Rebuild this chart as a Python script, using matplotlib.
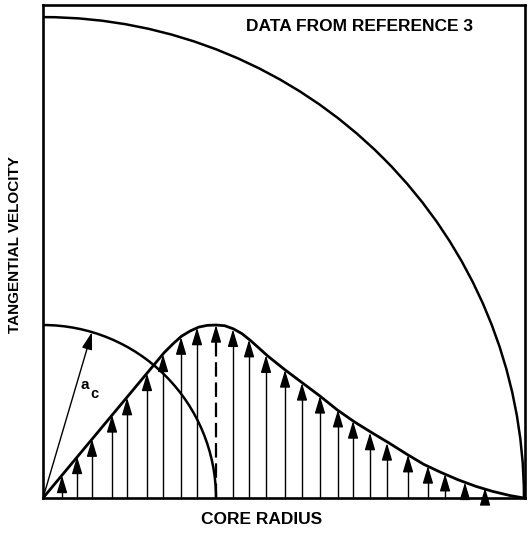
import matplotlib
matplotlib.use("Agg")
import matplotlib.pyplot as plt
from matplotlib.patches import Arc

plt.rcParams['font.family'] = ['Liberation Sans', 'DejaVu Sans']

# velocity profile, radius and velocity in units of the core radius
profile_r = [0.0, 0.30, 0.60, 0.65, 0.70, 0.75, 0.80, 0.85, 0.90, 0.95, 1.00, 1.05,
             1.10, 1.15, 1.20, 1.25, 1.30, 1.40, 1.50, 1.60, 1.70, 1.80, 1.90,
             2.00, 2.10, 2.20, 2.30, 2.40, 2.50, 2.60, 2.70, 2.78]
profile_v = [0.0, 0.36, 0.72, 0.78, 0.84, 0.89, 0.935, 0.965, 0.988, 0.998, 1.00, 0.996,
             0.978, 0.95, 0.91, 0.865, 0.82, 0.74, 0.665, 0.59, 0.51, 0.44, 0.378,
             0.318, 0.255, 0.195, 0.148, 0.105, 0.068, 0.038, 0.014, 0.0]

# velocity vectors along the radius
arrow_r = [0.11, 0.197, 0.283, 0.399, 0.486, 0.601, 0.694, 0.798, 0.890, 1.0,
           1.098, 1.191, 1.289, 1.399, 1.497, 1.601, 1.705, 1.792, 1.890, 1.988,
           2.110, 2.225, 2.324, 2.439, 2.555]
arrow_v = [0.13, 0.24, 0.34, 0.48, 0.58, 0.72, 0.83, 0.93, 0.985, 1.0,
           0.975, 0.915, 0.825, 0.74, 0.665, 0.59, 0.51, 0.445, 0.378, 0.318,
           0.25, 0.185, 0.14, 0.09, 0.058]

core_radius = 1.0
outer_radius = 2.78
radius_tip = (0.283, 0.959)

fig = plt.figure(figsize=(5.31, 5.34), dpi=100)
ax = fig.add_axes([43 / 531, 36 / 534, 482 / 531, 493 / 534])
ax.set_xlim(0, 2.786)
ax.set_ylim(0, 2.85)
ax.set_xticks([])
ax.set_yticks([])
for s in ax.spines.values():
    s.set_linewidth(1.9)

# outer boundary and vortex core
ax.add_patch(Arc((0, 0), 2 * outer_radius, 2 * outer_radius, theta1=0, theta2=90,
                 lw=1.8, color='black'))
ax.add_patch(Arc((0, 0), 2 * core_radius, 2 * core_radius, theta1=0, theta2=90,
                 lw=1.8, color='black'))

ax.plot(profile_r, profile_v, color='black', lw=2.0, solid_joinstyle='round')

head = dict(arrowstyle='-|>,head_length=1.0,head_width=0.3', color='black',
            lw=1.0, mutation_scale=10.5, shrinkA=0, shrinkB=0)
for r, v in zip(arrow_r, arrow_v):
    dashed = abs(r - core_radius) < 1e-6
    if dashed:
        ax.plot([r, r], [0, v - 0.06], color='black', lw=1.6, dashes=(6.5, 2.6))
    else:
        ax.plot([r, r], [0, v - 0.04], color='black', lw=1.0)
    start = max(0.0, v - 0.08)
    ax.annotate('', xy=(r, v), xytext=(r, start), arrowprops=head)

# core radius vector
ax.annotate('', xy=radius_tip, xytext=(0, 0), arrowprops=head)
ax.text(0.243, 0.653, 'a', fontsize=11, fontweight='bold', ha='center', va='center')
ax.text(0.295, 0.603, 'c', fontsize=10.5, fontweight='bold', ha='center', va='center')

fig.text(359 / 531, 1 - 26.5 / 534, 'DATA FROM REFERENCE 3', fontsize=12.5,
         fontweight='bold', ha='center', va='center')
fig.text(262 / 531, 1 - 519 / 534, 'CORE RADIUS', fontsize=12.5,
         fontweight='bold', ha='center', va='center')
fig.text(15 / 531, 1 - 245 / 534, 'TANGENTIAL VELOCITY', fontsize=11,
         fontweight='bold', ha='center', va='center', rotation=90)

fig.savefig('out.png', dpi=100, facecolor='white')
